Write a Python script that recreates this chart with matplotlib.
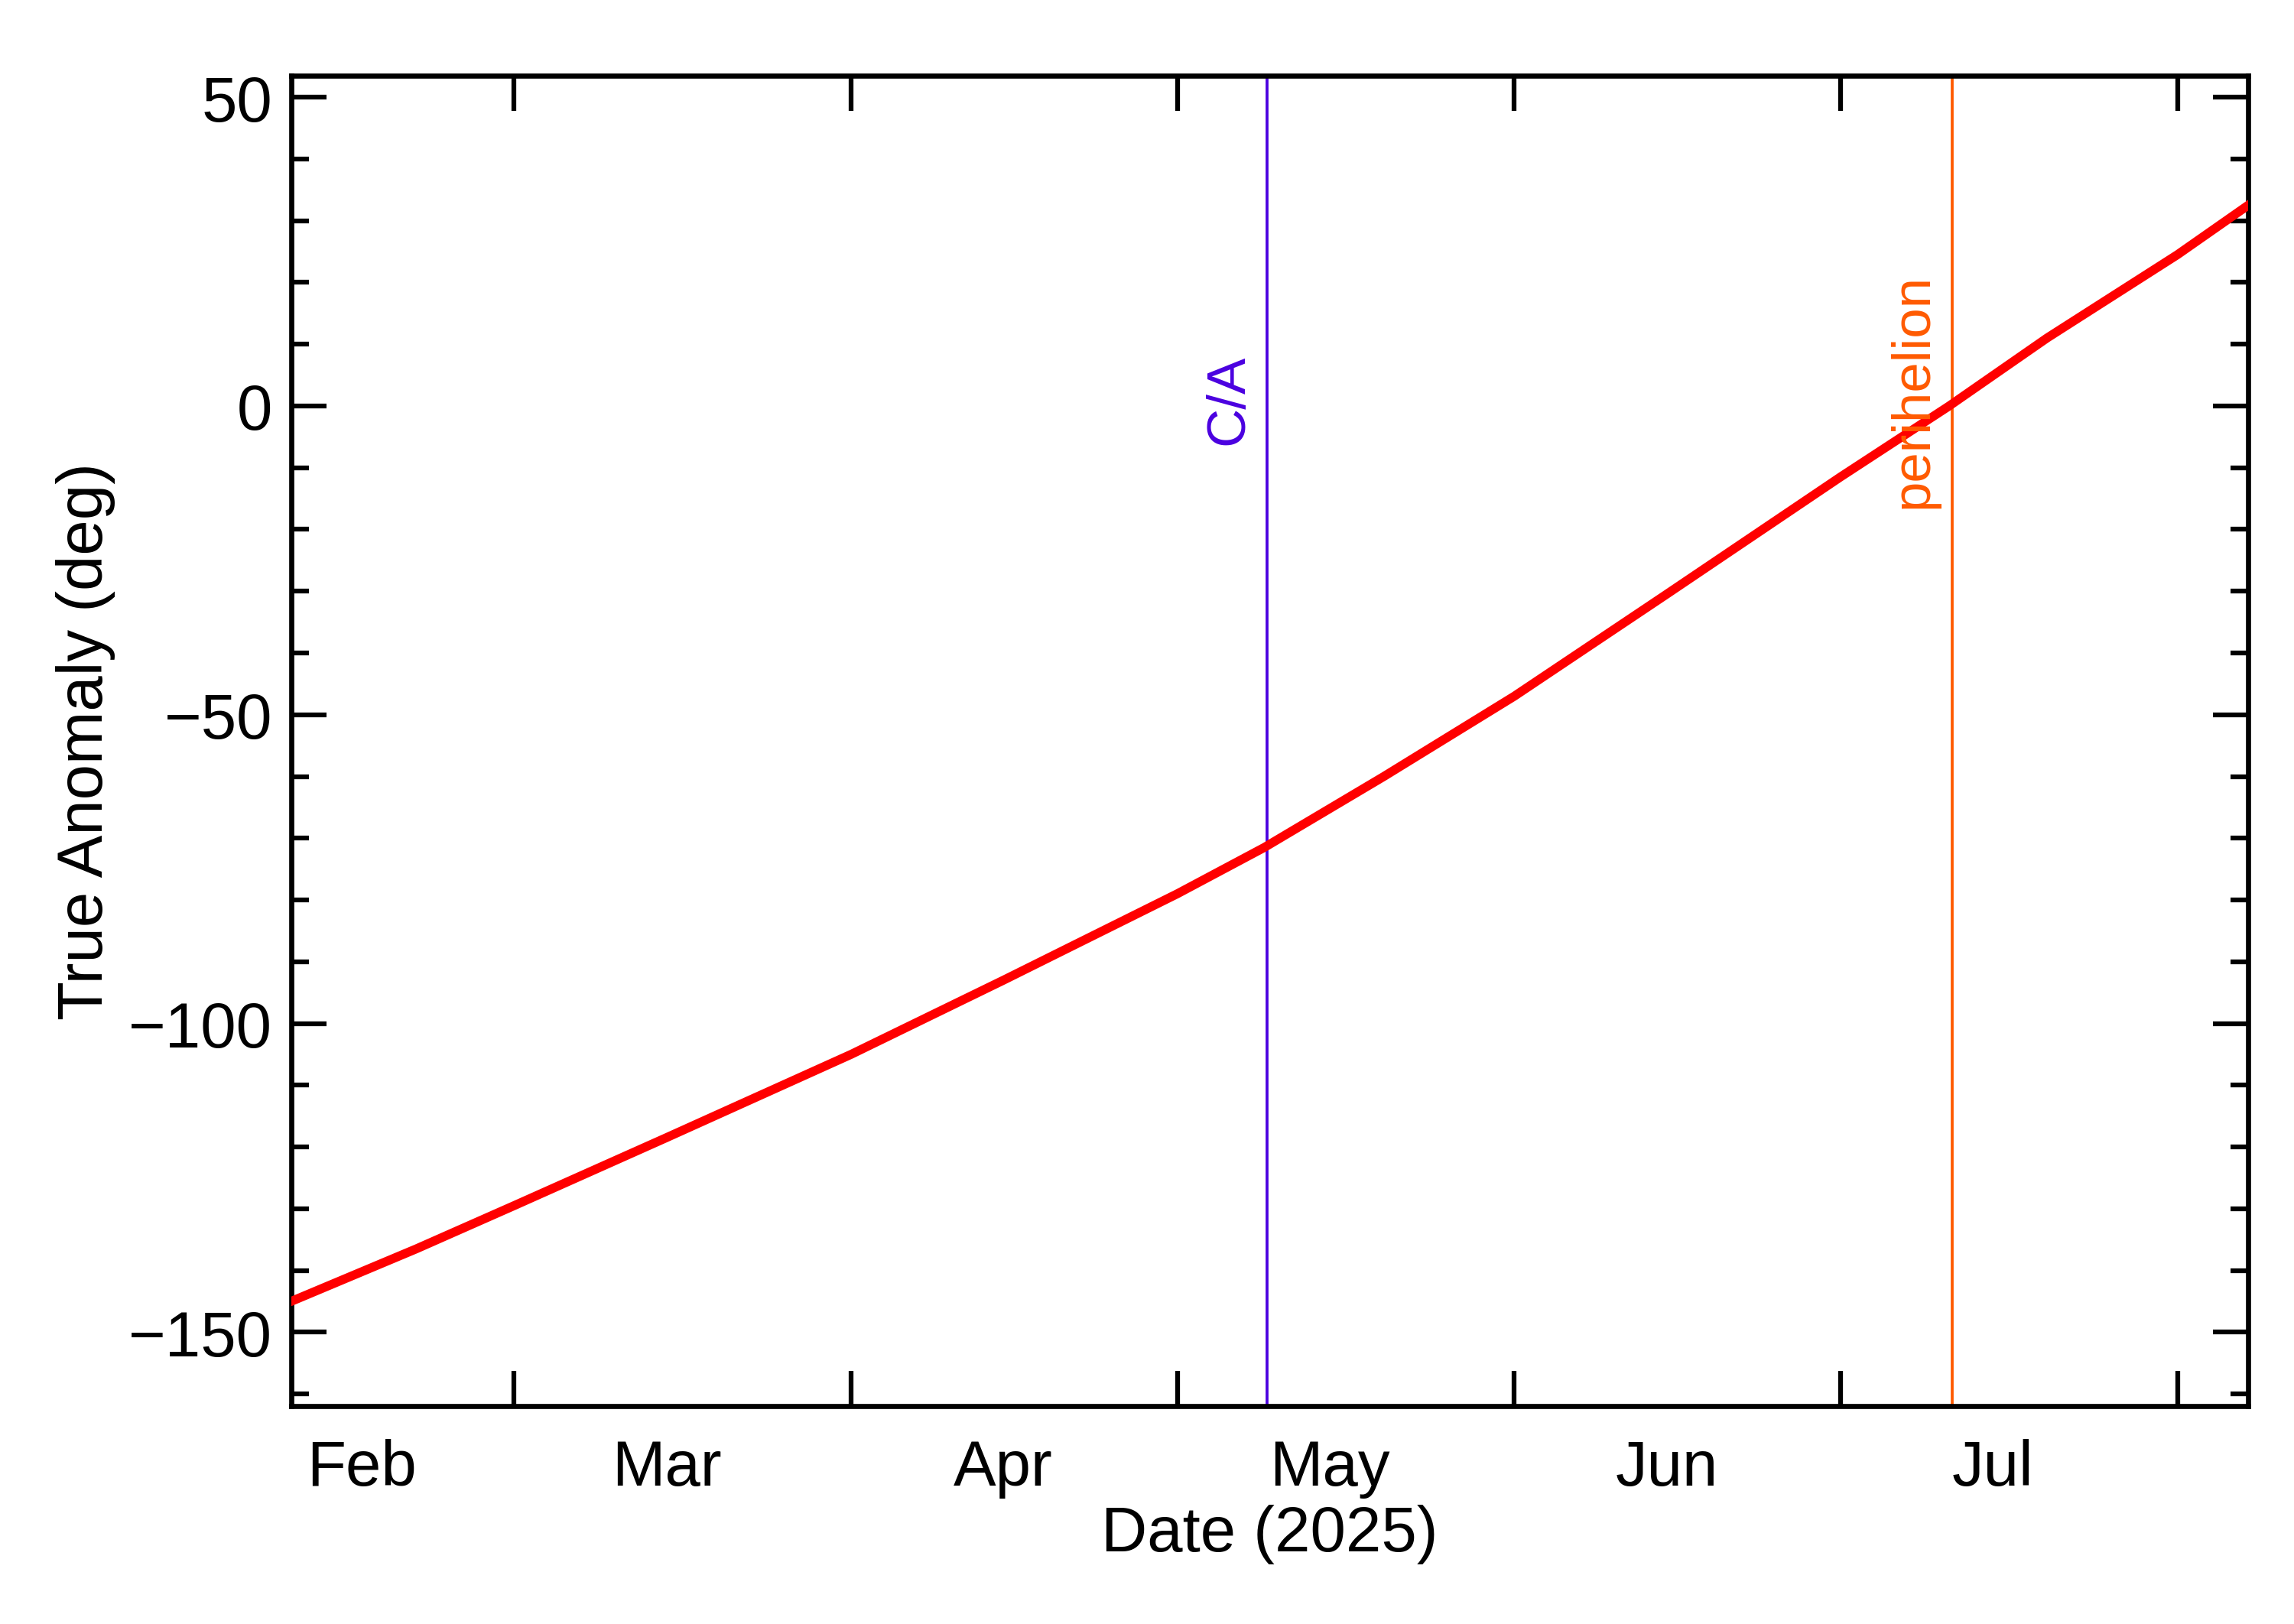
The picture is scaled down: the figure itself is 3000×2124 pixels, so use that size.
import numpy as np
import pandas as pd
import matplotlib.pyplot as plt
import matplotlib.dates as mdates

plt.rcParams['font.family'] = ['Liberation Sans', 'DejaVu Sans']

# true anomaly
dates = pd.to_datetime(['2025-02-08 12:00', '2025-02-20 00:00', '2025-03-01 00:00', '2025-03-15 00:00',
                        '2025-04-01 00:00', '2025-04-15 00:00', '2025-05-01 00:00', '2025-05-09 00:00',
                        '2025-05-20 00:00', '2025-06-01 00:00', '2025-06-15 00:00', '2025-07-01 00:00',
                        '2025-07-11 00:00', '2025-07-20 00:00', '2025-08-01 00:00', '2025-08-07 12:00'],
                       format='%Y-%m-%d %H:%M')
anomaly = [-145, -136.5, -129.5, -118.5, -105, -93, -79, -71.5,
           -60, -47, -30.5, -11.5, 0, 11, 24.5, 32.5]
ca_date = pd.Timestamp('2025-05-09 06:00')
peri_date = pd.Timestamp('2025-07-11 06:00')

fig = plt.figure(figsize=(10, 7.0833), dpi=300)
ax = fig.add_axes([0.127, 0.134, 0.853, 0.819])

ax.plot(dates, anomaly, color='red', lw=2.8, zorder=3)
ax.axvline(ca_date, color='#4a00e0', lw=0.9)
ax.axvline(peri_date, color='#ff5a00', lw=0.9)

ax.set_xlim(dates[0], dates[-1])
ax.set_ylim(-162, 53.5)
ax.text(ca_date - pd.Timedelta(days=1.2), 8.5, 'C/A', rotation=90,
        ha='right', va='top', color='#4a00e0', fontsize=17)
ax.text(peri_date - pd.Timedelta(days=1.2), 21.5, 'perihelion', rotation=90,
        ha='right', va='top', color='#ff5a00', fontsize=17)

ax.xaxis.set_major_locator(mdates.MonthLocator())
ax.xaxis.set_major_formatter(plt.NullFormatter())
ax.xaxis.set_minor_locator(mdates.MonthLocator(bymonthday=15))
ax.xaxis.set_minor_formatter(mdates.DateFormatter('%b'))
ax.tick_params(axis='x', which='minor', length=0, pad=10, labelsize=20)
ax.tick_params(axis='x', which='major', length=11, width=1.5, direction='in',
               top=True, bottom=True)

ax.set_yticks([-150, -100, -50, 0, 50])
ax.set_yticks(np.arange(-160, 51, 10), minor=True)
ax.tick_params(axis='y', which='major', length=11, width=1.5, direction='in',
               left=True, right=True, labelsize=20, pad=6)
ax.tick_params(axis='y', which='minor', length=5.5, width=1.5, direction='in',
               left=True, right=True)

for s in ax.spines.values():
    s.set_linewidth(1.6)

ax.set_xlabel('Date (2025)', fontsize=20, labelpad=2)
ax.set_ylabel('True Anomaly (deg)', fontsize=20, labelpad=4)

fig.savefig('out.png', dpi=300)
